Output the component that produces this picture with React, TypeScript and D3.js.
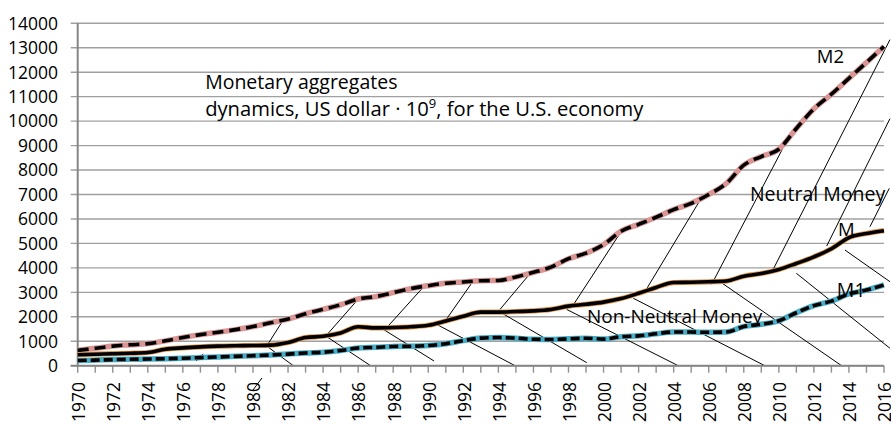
import React from "react";
import * as d3 from "d3";

const years = [
  1970, 1971, 1972, 1973, 1974, 1975, 1976, 1977, 1978, 1979,
  1980, 1981, 1982, 1983, 1984, 1985, 1986, 1987, 1988, 1989,
  1990, 1991, 1992, 1993, 1994, 1995, 1996, 1997, 1998, 1999,
  2000, 2001, 2002, 2003, 2004, 2005, 2006, 2007, 2008, 2009,
  2010, 2011, 2012, 2013, 2014, 2015, 2016,
];

const m2Values = [
  626, 710, 802, 855, 902, 1016, 1152, 1270, 1366, 1474,
  1600, 1756, 1906, 2124, 2306, 2492, 2728, 2826, 2988, 3152,
  3272, 3372, 3425, 3474, 3486, 3630, 3819, 4032, 4375, 4600,
  4950, 5500, 5780, 6070, 6380, 6640, 7000, 7450, 8200, 8550,
  8850, 9700, 10500, 11100, 11750, 12400, 13050,
];

const mValues = [
  450, 470, 490, 510, 540, 675, 730, 770, 800, 815,
  825, 840, 950, 1150, 1205, 1340, 1590, 1545, 1560, 1590,
  1655, 1830, 2025, 2190, 2190, 2215, 2240, 2300, 2435, 2510,
  2600, 2745, 2960, 3200, 3400, 3410, 3430, 3460, 3660, 3770,
  3935, 4180, 4450, 4780, 5240, 5405, 5520,
];

const m1Values = [
  214, 228, 249, 263, 274, 287, 306, 331, 358, 383,
  409, 437, 475, 521, 552, 620, 724, 750, 787, 794,
  825, 897, 1025, 1129, 1150, 1127, 1081, 1073, 1097, 1123,
  1088, 1183, 1220, 1306, 1376, 1375, 1367, 1375, 1603, 1693,
  1837, 2165, 2456, 2640, 2933, 3093, 3300,
];

const yTicks = [0, 1000, 2000, 3000, 4000, 5000, 6000, 7000, 8000, 9000, 10000, 11000, 12000, 13000, 14000];
const xLabelYears = [
  1970, 1972, 1974, 1976, 1978, 1980, 1982, 1984, 1986, 1988, 1990, 1992,
  1994, 1996, 1998, 2000, 2002, 2004, 2006, 2008, 2010, 2012, 2014, 2016,
];

// hand drawn hatching: [yearFrom, valueFrom, yearTo, valueTo]
const neutralHatch = [
  [1980.78, 800, 1981.7, 1840],
  [1984.2, 1250, 1986.05, 2760],
  [1987.66, 1580, 1989.75, 3240],
  [1990.86, 1720, 1992.53, 3430],
  [1994.09, 2300, 1995.8, 3760],
  [1998.27, 2480, 2001.0, 5480],
  [2002.36, 3026, 2005.6, 6880],
  [2006.17, 3330, 2010.2, 8850],
  [2009.68, 3942, 2016.34, 13331],
  [2012.73, 4894, 2016.34, 10100],
  [2015.2, 5683, 2016.3, 7250],
  [1976.75, 192, 1977.16, 478],
  [1980.0, -994, 1980.51, -503],
];
const nonNeutralHatch = [
  [1980.78, 805, 1982.3, 0],
  [1984.2, 1190, 1986.71, 0],
  [1987.25, 1570, 1990.33, 192],
  [1990.48, 1690, 1994.95, 0],
  [1994.09, 2196, 1999.04, 123],
  [1997.9, 2300, 2004.26, 0],
  [2001.7, 2756, 2009.2, 0],
  [2006.64, 3435, 2013.58, 0],
  [2011.0, 3778, 2016.34, 711],
  [2013.77, 4731, 2016.34, 3435],
];

const W = 891;
const H = 425;
const FONT = "'Open Sans', 'Liberation Sans', sans-serif";

export default function App() {
  const x = d3.scaleLinear().domain([1970, 2016]).range([77.7, 884]);
  const y = d3.scaleLinear().domain([0, 14000]).range([365.7, 23.3]);

  const line = d3
    .line<number>()
    .x((d, i) => x(years[i]))
    .y((d) => y(d))
    .curve(d3.curveMonotoneX);

  const x0 = x(1970);
  const x1 = x(2016);
  const y0 = y(0);

  return (
    <svg
      width={W}
      height={H}
      style={{ position: "absolute", left: 0, top: 0, background: "#fff" }}
      fontFamily={FONT}
    >
      {/* gridlines */}
      {yTicks.map((t) => (
        <line key={"g" + t} x1={x0 - 7} x2={x1} y1={y(t)} y2={y(t)} stroke="#a0a0a0" strokeWidth={1.4} />
      ))}
      {/* y labels */}
      {yTicks.map((t) => (
        <text key={"yl" + t} x={58} y={y(t)} dy="0.36em" textAnchor="end" fontSize={17.5} fill="#000">
          {t}
        </text>
      ))}
      {/* x ticks */}
      {years.map((yr) => (
        <line key={"xt" + yr} x1={x(yr)} x2={x(yr)} y1={y0} y2={y0 + 7} stroke="#909090" strokeWidth={1.4} />
      ))}
      {xLabelYears.map((yr) => (
        <text
          key={"xl" + yr}
          transform={`translate(${x(yr) + 1},${382}) rotate(-90)`}
          dy="0.36em"
          textAnchor="end"
          fontSize={17.5}
          fill="#000"
        >
          {yr}
        </text>
      ))}

      {/* hatching */}
      {neutralHatch.concat(nonNeutralHatch).map((h, i) => (
        <line key={"h" + i} x1={x(h[0])} y1={y(h[1])} x2={x(h[2])} y2={y(h[3])} stroke="#000" strokeWidth={1} />
      ))}

      {/* axes */}
      <line x1={x0} x2={x0} y1={y(14000)} y2={y0} stroke="#868686" strokeWidth={2} />
      <line x1={x0 - 7} x2={x1} y1={y0} y2={y0} stroke="#868686" strokeWidth={2} />

      {/* M2 */}
      <path d={line(m2Values) || ""} fill="none" stroke="#d99694" strokeWidth={5.5} />
      <path d={line(m2Values) || ""} fill="none" stroke="#000" strokeWidth={3.6} strokeDasharray="11 6" />
      {/* M */}
      <path d={line(mValues) || ""} fill="none" stroke="#e0964c" strokeWidth={5.2} />
      <path d={line(mValues) || ""} fill="none" stroke="#000" strokeWidth={3.6} />
      {/* M1 */}
      <path d={line(m1Values) || ""} fill="none" stroke="#4bacc6" strokeWidth={5.5} />
      <path d={line(m1Values) || ""} fill="none" stroke="#000" strokeWidth={3.6} strokeDasharray="9 4" />

      {/* annotations */}
      <text x={x(1977.27)} y={y(11300)} fontSize={19.5} fill="#000">
        Monetary aggregates
      </text>
      <text x={x(1977.27)} y={y(10230)} fontSize={20.2} fill="#000">
        dynamics, US dollar · 10
        <tspan fontSize={13} dy={-8}>9</tspan>
        <tspan dy={8}>, for the U.S. economy</tspan>
      </text>
      <text x={x(2012.17)} y={y(12364)} fontSize={18.5} fill="#000">M2</text>
      <text x={x(2013.37)} y={y(5315)} fontSize={18.5} fill="#000">M</text>
      <text x={x(2013.31)} y={y(2797)} fontSize={19.5} fill="#000">M1</text>
      <text x={x(2008.35)} y={y(6747)} fontSize={19.5} fill="#000">Neutral Money</text>
      <text x={x(1999.05)} y={y(1758)} fontSize={19} fill="#000">Non-Neutral Money</text>
    </svg>
  );
}
